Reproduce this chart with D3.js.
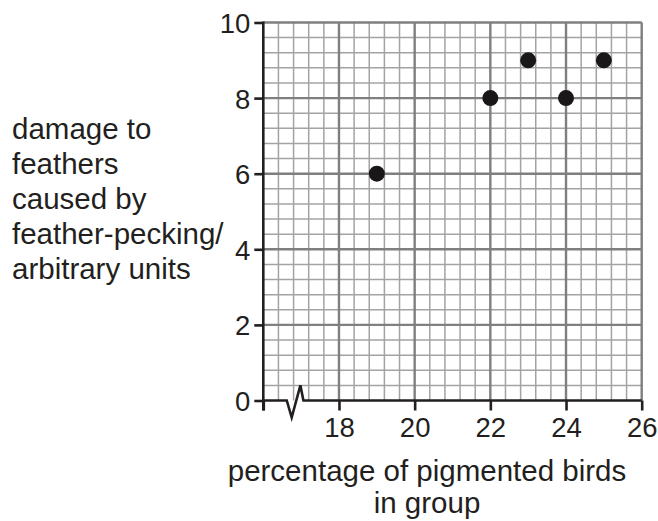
<!DOCTYPE html>
<html>
<head>
<meta charset="utf-8">
<script src="https://cdn.jsdelivr.net/npm/d3@7"></script>
<style>
  body { margin: 0; background: #fff; }
  text { font-family: "Liberation Sans", Arial, sans-serif; fill: #231f20; }
</style>
</head>
<body>
<svg id="chart" width="658" height="521"></svg>
<script>
// data
const pigmented = [19, 22, 23, 24, 25];
const damage = [6, 8, 9, 8, 9];
const xTicks = [16, 18, 20, 22, 24, 26];
const xTickLabels = ["", "18", "20", "22", "24", "26"];
const yTicks = [0, 2, 4, 6, 8, 10];
const yTitle = ["damage to", "feathers", "caused by", "feather-pecking/", "arbitrary units"];
const xTitle = ["percentage of pigmented birds", "in group"];

const svg = d3.select("#chart");
const x = d3.scaleLinear().domain([16, 26]).range([263.3, 641.7]);
const y = d3.scaleLinear().domain([0, 10]).range([400.5, 22.5]);

// minor grid every 0.4
const minor = d3.range(0, 26).map(i => +(16 + i * 0.4).toFixed(1));
const minorY = d3.range(0, 26).map(i => +(i * 0.4).toFixed(1));
const grid = svg.append("g");
grid.selectAll(".vmin").data(minor.filter(v => v % 2 !== 0)).join("line")
    .attr("x1", d => x(d)).attr("x2", d => x(d))
    .attr("y1", y(0)).attr("y2", y(10))
    .attr("stroke", "#a3a3a3").attr("stroke-width", 1.5);
grid.selectAll(".hmin").data(minorY.filter(v => v % 2 !== 0)).join("line")
    .attr("y1", d => y(d)).attr("y2", d => y(d))
    .attr("x1", x(16)).attr("x2", x(26))
    .attr("stroke", "#a3a3a3").attr("stroke-width", 1.5);
// major grid every 2
grid.selectAll(".vmaj").data(xTicks.slice(1)).join("line")
    .attr("x1", d => x(d)).attr("x2", d => x(d))
    .attr("y1", y(0)).attr("y2", y(10))
    .attr("stroke", "#7f7f7f").attr("stroke-width", 2.4);
grid.selectAll(".hmaj").data(yTicks.slice(1)).join("line")
    .attr("y1", d => y(d)).attr("y2", d => y(d))
    .attr("x1", x(16)).attr("x2", x(26))
    .attr("stroke", "#7f7f7f").attr("stroke-width", 2.4);

// axes
const leftAxis = d3.axisLeft(y).tickValues(yTicks).tickSize(9).tickPadding(4).tickSizeOuter(0);
const gy = svg.append("g").attr("transform", `translate(${x(16)},0)`).call(leftAxis);
gy.select(".domain").remove();
gy.append("line").attr("x1", 0).attr("x2", 0).attr("y1", y(10) - 1).attr("y2", y(0) + 10)
    .attr("stroke", "#231f20").attr("stroke-width", 2.6);
gy.selectAll(".tick line").attr("stroke", "#231f20").attr("stroke-width", 2.6);
gy.selectAll(".tick text").attr("font-size", 27.5).attr("dy", "0.36em");

const bottomAxis = d3.axisBottom(x).tickValues(xTicks).tickSize(10).tickPadding(6)
    .tickFormat((d, i) => xTickLabels[i]);
const gx = svg.append("g").attr("transform", `translate(0,${y(0)})`).call(bottomAxis);
gx.select(".domain").remove();
gx.selectAll(".tick line").attr("stroke", "#231f20").attr("stroke-width", 2.6);
gx.selectAll(".tick text").attr("font-size", 27.5).attr("dy", "0.76em");

// x axis line with break symbol
const brk = [[16, 0], [16.62, 0], [16.75, -0.45], [16.98, 0.4], [17.06, 0], [26, 0]];
svg.append("path")
    .attr("d", d3.line().x(d => x(d[0])).y(d => y(d[1]))(brk))
    .attr("fill", "none").attr("stroke", "#231f20").attr("stroke-width", 2.6)
    .attr("stroke-linejoin", "miter");

// points
svg.selectAll("circle").data(pigmented).join("circle")
    .attr("cx", d => x(d))
    .attr("cy", (d, i) => y(damage[i]))
    .attr("r", 8)
    .attr("fill", "#1a1718");

// axis titles
svg.append("text").attr("font-size", 29.5)
  .selectAll("tspan").data(yTitle).join("tspan")
    .attr("x", 12).attr("y", (d, i) => 139 + i * 35).text(d => d);
svg.append("text").attr("font-size", 29.5).attr("text-anchor", "middle")
  .selectAll("tspan").data(xTitle).join("tspan")
    .attr("x", 427).attr("y", (d, i) => 481 + i * 32).text(d => d);
</script>
</body>
</html>
